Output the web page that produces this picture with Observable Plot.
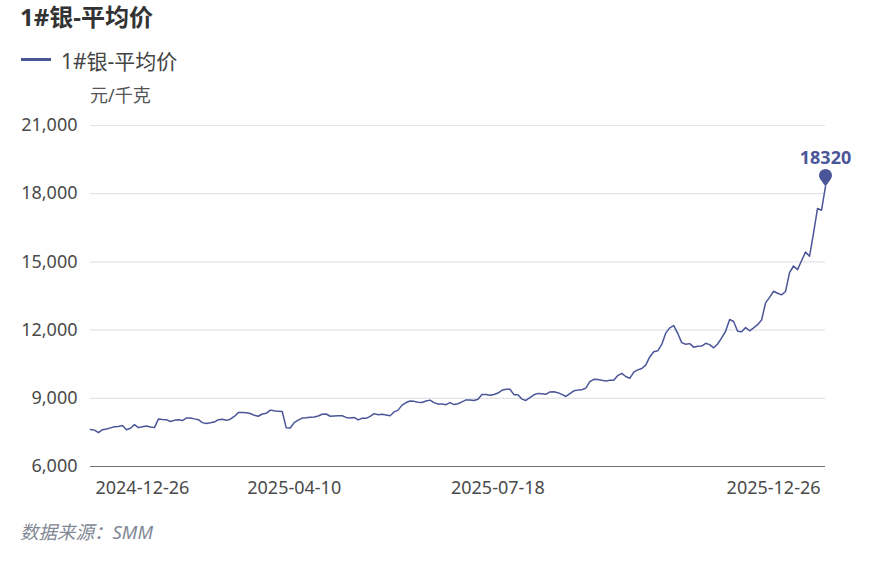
<!DOCTYPE html>
<html><head><meta charset="utf-8">
<script src="https://cdn.jsdelivr.net/npm/d3@7"></script>
<script src="https://cdn.jsdelivr.net/npm/@observablehq/plot@0.6"></script>
<style>
body{margin:0;background:#fff;font-family:"Noto Sans","Noto Sans CJK SC",sans-serif;}
#wrap{position:relative;width:875px;height:561px;overflow:hidden;}
.abs{position:absolute;white-space:nowrap;line-height:1;}
#title{left:20px;top:5px;font-size:24px;font-weight:bold;color:#333;}
#swatch{left:21px;top:58px;width:30px;height:3px;background:#4b5699;}
#legend{left:61px;top:51px;font-size:21px;color:#444;}
#unit{left:90px;top:86px;font-size:18px;color:#555;}
#caption{left:20px;top:523px;font-size:18.5px;font-style:italic;color:#828896;}
#chart{position:absolute;left:0;top:105px;}
</style></head>
<body><div id="wrap">
<div class="abs" id="title">1#银-平均价</div>
<div class="abs" id="swatch"></div>
<div class="abs" id="legend">1#银-平均价</div>
<div class="abs" id="unit">元/千克</div>
<div id="chart"></div>
<div class="abs" id="caption">数据来源：SMM</div>
</div>
<script>
const values = [
7630,7600,7490,7620,7650,7700,7745,7760,7800,7620,
7680,7840,7710,7745,7780,7740,7710,8085,8070,8060,
7980,8030,8060,8020,8130,8135,8095,8060,7930,7890,
7920,7955,8060,8075,8030,8080,8200,8370,8370,8360,
8330,8250,8210,8310,8340,8480,8450,8425,8420,7700,
7695,7930,8040,8130,8140,8170,8180,8220,8300,8310,
8210,8225,8235,8230,8160,8135,8160,8050,8120,8120,
8205,8325,8280,8295,8265,8235,8400,8480,8700,8815,
8880,8865,8830,8815,8880,8920,8810,8750,8750,8720,
8810,8725,8760,8845,8930,8930,8900,8960,9170,9165,
9135,9170,9230,9350,9400,9395,9160,9160,8965,8905,
9030,9155,9215,9200,9175,9280,9290,9248,9170,9080,
9205,9330,9360,9375,9450,9730,9835,9825,9790,9765,
9790,9790,10000,10100,9960,9880,10150,10250,10310,10460,
10820,11050,11090,11370,11865,12100,12200,11860,11450,11380,
11405,11250,11290,11300,11420,11360,11220,11390,11660,11950,
12465,12380,11950,11930,12110,11970,12100,12240,12440,13200,
13440,13710,13620,13550,13700,14530,14820,14660,15050,15430,
15250,16250,17350,17270,18320
];
const tickIndex = [13, 51, 102, 171];
const tickLabels = ["2024-12-26", "2025-04-10", "2025-07-18", "2025-12-26"];
const yTicks = [6000, 9000, 12000, 15000, 18000, 21000];
const color = "#4b5699";

const data = values.map((v, i) => ({i, v}));
const lastPoint = data.slice(-1);

const pin = {
  draw(ctx) {
    ctx.moveTo(0, 0);
    ctx.lineTo(-5.25, -7.17);
    ctx.arc(0, -11, 6.5, 2.51, 0.632 + 2 * Math.PI, false);
    ctx.closePath();
  }
};

const chart = Plot.plot({
  width: 875,
  height: 405,
  marginLeft: 90,
  marginRight: 50,
  marginTop: 20,
  marginBottom: 44,
  style: {fontSize: "18px", color: "#4a4a4a", fontFamily: '"Noto Sans","Noto Sans CJK SC",sans-serif', overflow: "visible"},
  x: {type: "linear", domain: [0, values.length - 1]},
  y: {domain: [6000, 21000]},
  marks: [
    Plot.gridY(yTicks.filter(d => d > 6000), {stroke: "#e3e4e8", strokeOpacity: 1, strokeWidth: 1.2}),
    Plot.ruleY([6000], {stroke: "#6e7079", strokeWidth: 1.2}),
    Plot.axisY(yTicks, {tickSize: 0, tickPadding: 13, tickFormat: d3.format(","), label: null}),
    Plot.axisX(tickIndex, {tickSize: 0, tickPadding: 15, label: null, tickFormat: d => tickLabels[tickIndex.indexOf(d)]}),
    Plot.line(data, {x: "i", y: "v", stroke: color, strokeWidth: 1.5}),
    Plot.dot(lastPoint, {x: "i", y: "v", symbol: pin, r: 6, fill: color, stroke: "none"}),
    Plot.text(lastPoint, {x: "i", y: "v", text: d => String(d.v), dy: -28, fill: color, fontSize: 18, fontWeight: "bold"})
  ]
});
document.getElementById("chart").appendChild(chart);
</script>
</body></html>
